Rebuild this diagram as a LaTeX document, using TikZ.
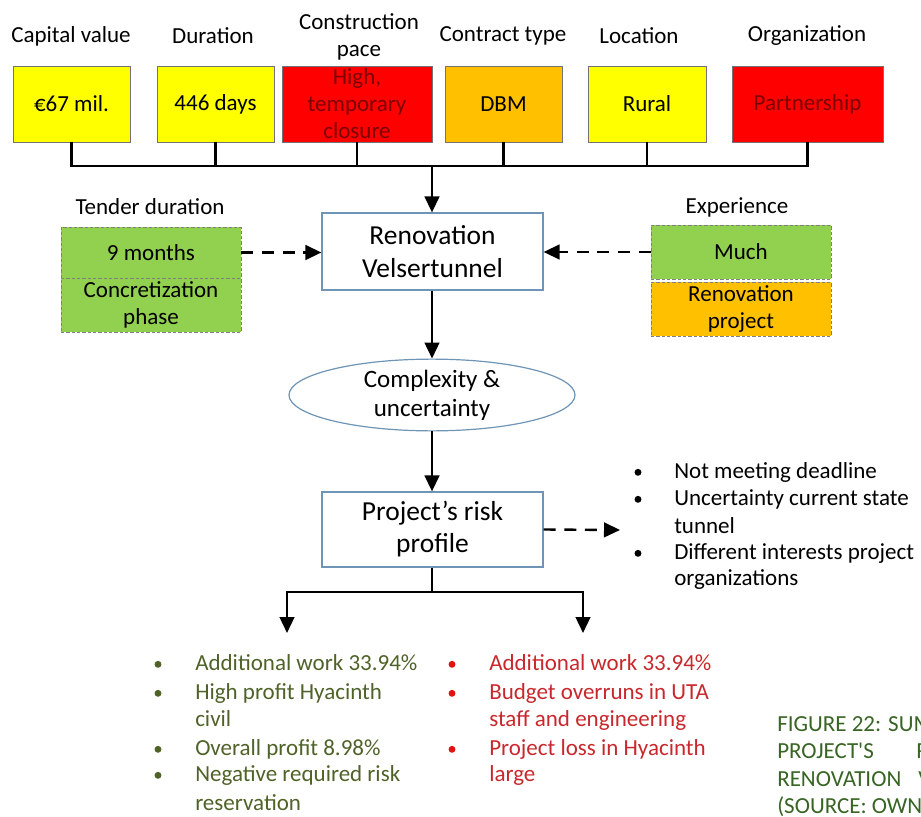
\documentclass[tikz,border=0pt]{standalone}
\usepackage{fontspec}
\setmainfont{Carlito}
\newfontfamily\capfont{Carlito}[Ligatures=TeXOff]
\usetikzlibrary{shapes.geometric,arrows.meta}
\definecolor{cyel}{RGB}{255,255,0}
\definecolor{cred}{RGB}{255,0,0}
\definecolor{corg}{RGB}{255,192,0}
\definecolor{cgrn}{RGB}{146,208,80}
\definecolor{cblu}{RGB}{110,148,182}
\definecolor{dred}{RGB}{125,0,0}
\definecolor{tgrn}{RGB}{79,98,40}
\definecolor{tred}{RGB}{200,40,45}
\definecolor{bred}{RGB}{225,20,20}
\definecolor{capg}{RGB}{56,100,36}
\begin{document}
\begin{tikzpicture}[x=0.75pt,y=-0.75pt,
  every node/.style={font=\fontsize{17.25}{20.25}\selectfont, inner sep=0pt, align=center},
  topbox/.style={draw=black!55, line width=0.6pt, minimum height=57pt},
  dbox/.style={draw=black!50, line width=0.6pt, dashed, dash pattern=on 2.5pt off 1.5pt, minimum width=135pt},
  mainbox/.style={draw=cblu, line width=0.9pt, fill=white, minimum width=165.75pt},
  conn/.style={line width=1.8pt, black},
  arr/.style={conn, -{Triangle[length=12pt,width=11pt]}},
  darr/.style={arr, dash pattern=on 9pt off 6.5pt},
  item/.style={anchor=mid west},
  dot/.style={circle, minimum size=5.2pt, inner sep=0pt, yshift=2pt},
]
\clip (0,0) rectangle (921,817);

% top labels
\node (l1) at (71,36) {Capital value};
\node (l2) at (213,36) {Duration};
\node (l3) at (359,36.5) {Construction\\pace};
\node (l4) at (503,36) {Contract type};
\node (l5) at (639,36) {Location};
\node (l6) at (807,36) {Organization};

% top boxes
\node[topbox, fill=cyel, minimum width=87.75pt] (b1) at (71.5,104) {€67 mil.};
\node[topbox, fill=cyel, minimum width=87.75pt] (b2) at (215.5,104) {446 days};
\node[topbox, fill=cred, minimum width=112.5pt] (b3) at (357,104) {};
\node[text=dred] (b3t) at (b3.center) {High,\\temporary\\closure};
\node[topbox, fill=corg, minimum width=87.75pt] (b4) at (503.5,104) {DBM};
\node[topbox, fill=cyel, minimum width=88.5pt] (b5) at (647,104) {Rural};
\node[topbox, fill=cred, minimum width=113.25pt, text=dred] (b6) at (807.5,104) {Partnership};

% bus
\coordinate (bus) at (432,166);
\draw[conn] (b1.south) -- (b1.south|-bus) -- (b6.south|-bus) -- (b6.south);
\draw[conn] (b2.south) -- (b2.south|-bus);
\draw[conn] (b3.south) -- (b3.south|-bus);
\draw[conn] (b4.south) -- (b4.south|-bus);
\draw[conn] (b5.south) -- (b5.south|-bus);

% renovation box
\node[mainbox, minimum height=57.75pt, font=\fontsize{20.6}{24.75}\selectfont] (ren) at (432.5,251.5) {Renovation\\Velsertunnel};
\draw[arr] (bus) -- (bus|-ren.north);

% tender duration
\node (tdl) at (150,207) {Tender duration};
\node[dbox, fill=cgrn, minimum height=38.25pt] (td1) at (151,252.5) {9 months};
\node[dbox, fill=cgrn, minimum height=40.5pt] (td2) at (151,305) {Concretization\\phase};
\draw[darr] (td1.east) -- (td1.east-|ren.west);

% experience
\node (exl) at (737,207) {Experience};
\node[dbox, fill=cgrn, minimum height=40.5pt] (ex1) at (741,252) {Much};
\node[dbox, fill=corg, minimum height=40.5pt] (ex2) at (741,309) {Renovation\\project};
\draw[darr] (ex1.west) -- (ex1.west-|ren.east);

% ellipse
\node[ellipse, draw=cblu, line width=0.9pt, minimum width=214.5pt, minimum height=52.5pt, font=\fontsize{18.75}{22}\selectfont] (ell) at (432,395) {Complexity \&\\uncertainty};
\draw[arr] (ren.south-|bus) -- (ell.north);

% risk profile
\node[mainbox, minimum height=56.25pt, font=\fontsize{20.6}{24}\selectfont] (risk) at (432.5,529.5) {Project’s risk\\profile};
\draw[arr] (ell.south) -- (ell.south|-risk.north);

\coordinate (rend) at (620,530);
\draw[darr] (risk.east) -- (rend);

% risks list
\node[dot, fill=black] (rb1) at (638,475) {};
\node[item] (rt1) at (674,475) {Not meeting deadline};
\node[dot, fill=black] (rb2) at (638,502) {};
\node[item] (rt2) at (674,502) {Uncertainty current state};
\node[item] (rt3) at (674,530) {tunnel};
\node[dot, fill=black] (rb3) at (638,556) {};
\node[item] (rt4) at (674,556) {Different interests project};
\node[item] (rt5) at (674,582) {organizations};

% branch
\coordinate (br) at (432,592);
\coordinate (gl) at (287,633);
\coordinate (rl) at (583,633);
\draw[conn] (risk.south-|br) -- (br);
\draw[arr] (br) -| (gl);
\draw[arr] (br) -| (rl);

% green list
\begin{scope}[every node/.append style={text=tgrn}]
\node[dot, fill=tgrn] (gb1) at (158,667) {};
\node[item] (gt1) at (195,667) {Additional work 33.94\%};
\node[dot, fill=tgrn] (gb2) at (158,696) {};
\node[item] (gt2) at (195,696) {High profit Hyacinth};
\node[item] (gt3) at (195,723) {civil};
\node[dot, fill=tgrn] (gb3) at (158,752) {};
\node[item] (gt4) at (195,752) {Overall profit 8.98\%};
\node[dot, fill=tgrn] (gb4) at (158,778) {};
\node[item] (gt5) at (195,778) {Negative required risk};
\node[item] (gt6) at (195,807) {reservation};
\end{scope}

% red list
\begin{scope}[every node/.append style={text=tred}]
\node[dot, fill=bred] (qb1) at (452,667) {};
\node[item] (qt1) at (489,667) {Additional work 33.94\%};
\node[dot, fill=bred] (qb2) at (452,696) {};
\node[item] (qt2) at (489,696) {Budget overruns in UTA};
\node[item] (qt3) at (489,723) {staff and engineering};
\node[dot, fill=bred] (qb3) at (452,752) {};
\node[item] (qt4) at (489,752) {Project loss in Hyacinth};
\node[item] (qt5) at (489,778) {large};
\end{scope}

% caption (cut off at the right edge, as in the reference)
\begin{scope}[every node/.append style={text=capg, font=\capfont\fontsize{17.25}{20.25}\selectfont}]
\node[item] (c1) at (777,728) {FIGURE 22: SUM};
\node[item] (c2) at (777,755) {PROJECT'S};
\node[item] (c2b) at (916,755) {R};
\node[item] (c3) at (777,783) {RENOVATION};
\node[item] (c3b) at (918,783) {V};
\node[item] (c4) at (777,810) {(SOURCE: OWN};
\end{scope}
\end{tikzpicture}
\end{document}
